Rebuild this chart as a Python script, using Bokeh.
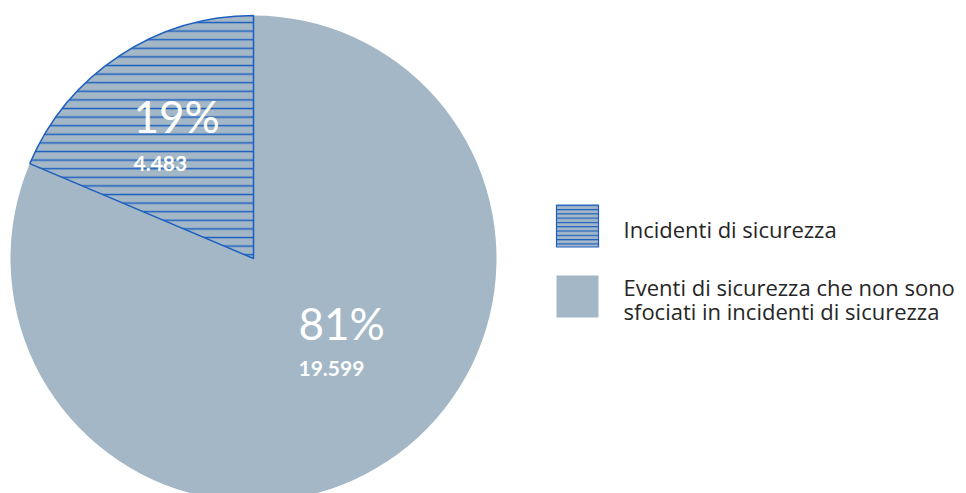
import numpy as np
from bokeh.plotting import figure
from bokeh.models import Range1d
from bokeh.core.properties import value
from bokeh.embed import file_html
from bokeh.resources import INLINE

# ---- data ----
categories = ["Incidenti di sicurezza",
              "Eventi di sicurezza che non sono\nsfociati in incidenti di sicurezza"]
values = [4483, 19599]
pct_labels = ["19%", "81%"]
value_labels = ["4.483", "19.599"]

# ---- geometry (page pixel coordinates, y up) ----
W, H = 966, 493
p = figure(width=W, height=H, output_backend="svg", toolbar_location=None,
           x_range=Range1d(0, W), y_range=Range1d(0, H),
           min_border=0, outline_line_color=None)
p.axis.visible = False
p.grid.visible = False
p.background_fill_color = "white"

def Y(sy):
    return H - sy

cx, cy, r = 253, Y(258), 243
vals = np.array(values, dtype=float)
frac = vals / vals.sum()
cum = np.concatenate([[0], np.cumsum(frac)])
start = np.pi / 2 + 2 * np.pi * cum[:-1]
end = np.pi / 2 + 2 * np.pi * cum[1:]

BLUE = "#1c5fc0"
GREY = "#a3b7c6"

# non-hatched slice
p.wedge(x=cx, y=cy, radius=r, start_angle=start[1], end_angle=end[1],
        direction="anticlock", fill_color=GREY, line_color=None)
# hatched slice
p.wedge(x=cx, y=cy, radius=r, start_angle=start[0], end_angle=end[0],
        direction="anticlock", fill_color=GREY, line_color=BLUE, line_width=1.5,
        hatch_pattern="horizontal_line", hatch_color=BLUE, hatch_scale=8.6,
        hatch_weight=1.5)

# slice labels
lab_x = [133, 298]
pct_y = [Y(115), Y(322)]
val_y = [Y(163), Y(368)]
p.text(x=lab_x, y=pct_y, text=pct_labels, text_color="white",
       text_font=value("Lato"), text_font_size="44px",
       text_align="left", text_baseline="middle")
p.text(x=lab_x, y=val_y, text=value_labels, text_color="white",
       text_font=value("Lato"), text_font_size="21px", text_font_style="bold",
       text_align="left", text_baseline="middle")

# legend
sq = 42
leg_y = [Y(225.5), Y(296)]
p.rect(x=[577], y=[leg_y[0]], width=sq, height=sq, fill_color=GREY,
       line_color=BLUE, line_width=1.2, hatch_pattern="horizontal_line",
       hatch_color=BLUE, hatch_scale=4.3, hatch_weight=1.2)
p.rect(x=[577], y=[leg_y[1]], width=sq, height=sq, fill_color=GREY,
       line_color=None)

# legend labels, one text per line
leg_lines, leg_line_y = [], []
first_y = [228, 286]
for lab, fy in zip(categories, first_y):
    for i, ln in enumerate(lab.split("\n")):
        leg_lines.append(ln)
        leg_line_y.append(Y(fy + 24 * i))
p.text(x=[623] * len(leg_lines), y=leg_line_y, text=leg_lines,
       text_color="#262626", text_font=value("Open Sans"),
       text_font_size="22px", text_align="left", text_baseline="middle")

open("out.html", "w").write(file_html(p, INLINE))
